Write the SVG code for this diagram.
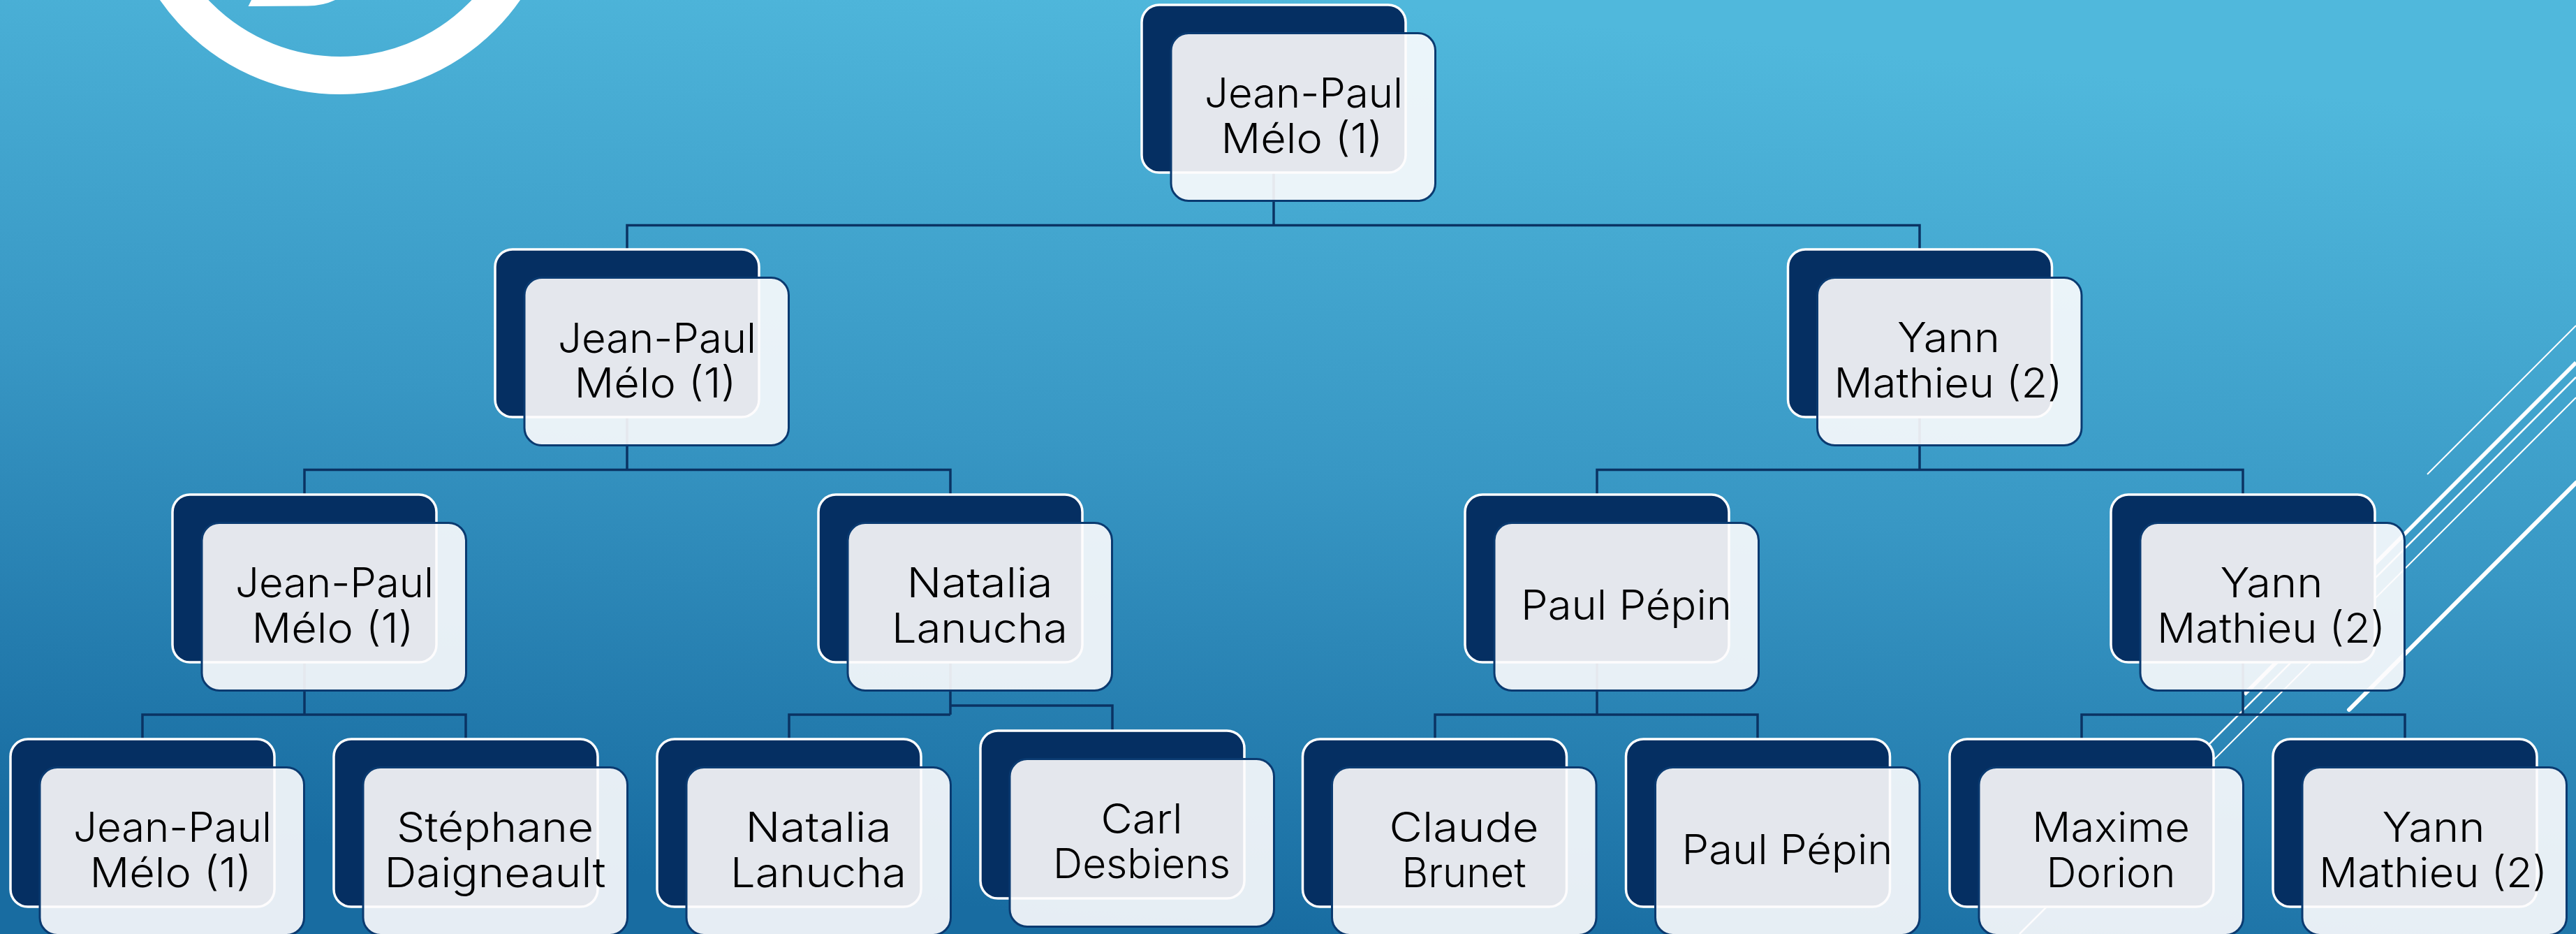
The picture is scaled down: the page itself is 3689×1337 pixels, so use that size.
<svg xmlns="http://www.w3.org/2000/svg" width="3689" height="1337" viewBox="0 0 3689 1337">
<style>
.b{fill:#052f62;stroke:#fff;stroke-width:3.5}
.f{fill:#fdfcfd;fill-opacity:.9;stroke:#0a3a70;stroke-width:3}
.t{font-family:"Inter","Lato","Liberation Sans",sans-serif;font-weight:300;font-size:59px;fill:#000;text-anchor:middle}
.c{fill:none;stroke:#0a3363;stroke-width:3.5}
.d{stroke:#fff;fill:none}
</style>
<defs>
<linearGradient id="bg" gradientUnits="userSpaceOnUse" x1="1910" y1="0" x2="1780" y2="1337">
<stop offset="0" stop-color="#50b8dc"/><stop offset=".5" stop-color="#3897c4"/><stop offset="1" stop-color="#186ca1"/>
</linearGradient>
<rect id="bk" width="378" height="240" rx="25" class="b"/>
<rect id="fr" x="42" y="40.5" width="378.5" height="240" rx="25" class="f"/>
</defs>
<rect width="3689" height="1337" fill="url(#bg)"/>
<g id="decor">
<circle cx="487" cy="-179" r="287" fill="none" stroke="#fff" stroke-width="54"/>
<path d="M355.5 9L360 0H480Q462 8.500 440 8.500Z" fill="#fff"/>
<path class="d" stroke-width="2" d="M3689 466L3476 679"/>
<path class="d" stroke-width="5.500" d="M3689 519L3214 994"/>
<path class="d" stroke-width="2.500" d="M3689 540L2892 1337"/>
<path class="d" stroke-width="2" d="M3689 569L3100 1158"/>
<path class="d" stroke-width="6" stroke-linecap="round" d="M3689 691L3364 1016"/>
</g>
<g id="connectors" class="c">
<path class="c" d="M1824 247V322.500M898 357V322.500H2749V357"/>
<path class="c" d="M898 597V672.500M436 708V672.500H1361V708"/>
<path class="c" d="M2749 597V672.500M2287 708V672.500H3212V708"/>
<path class="c" d="M436 948V1023M204 1058V1023H667V1058"/>
<path class="c" d="M1361 948V1023M1130 1058V1023H1361M1361 1010H1593V1046"/>
<path class="c" d="M2287 948V1023M2055 1058V1023H2517V1058"/>
<path class="c" d="M3212 948V1023M2981 1058V1023H3444V1058"/>
</g>
<g id="n1" transform="translate(1635 7)"><use href="#bk"/><use href="#fr"/><text class="t" x="232" y="147" textLength="284" lengthAdjust="spacingAndGlyphs">Jean-Paul</text><text class="t" x="229.500" y="212" textLength="232" lengthAdjust="spacingAndGlyphs">Mélo (1)</text></g>
<g id="n2" transform="translate(709 357)"><use href="#bk"/><use href="#fr"/><text class="t" x="232" y="148" textLength="284" lengthAdjust="spacingAndGlyphs">Jean-Paul</text><text class="t" x="229.500" y="212" textLength="232" lengthAdjust="spacingAndGlyphs">Mélo (1)</text></g>
<g id="n3" transform="translate(2560.500 357)"><use href="#bk"/><use href="#fr"/><text class="t" x="230" y="147" textLength="147" lengthAdjust="spacingAndGlyphs">Yann</text><text class="t" x="229.500" y="212" textLength="327" lengthAdjust="spacingAndGlyphs">Mathieu (2)</text></g>
<g id="n4" transform="translate(247 708)"><use href="#bk"/><use href="#fr"/><text class="t" x="232" y="147" textLength="284" lengthAdjust="spacingAndGlyphs">Jean-Paul</text><text class="t" x="229.500" y="212" textLength="232" lengthAdjust="spacingAndGlyphs">Mélo (1)</text></g>
<g id="n5" transform="translate(1172 708)"><use href="#bk"/><use href="#fr"/><text class="t" x="231" y="147" textLength="209" lengthAdjust="spacingAndGlyphs">Natalia</text><text class="t" x="231" y="212" textLength="252" lengthAdjust="spacingAndGlyphs">Lanucha</text></g>
<g id="n6" transform="translate(2098 708)"><use href="#bk"/><use href="#fr"/><text class="t" x="231" y="179" textLength="302" lengthAdjust="spacingAndGlyphs">Paul Pépin</text></g>
<g id="n7" transform="translate(3023 708)"><use href="#bk"/><use href="#fr"/><text class="t" x="230" y="147" textLength="147" lengthAdjust="spacingAndGlyphs">Yann</text><text class="t" x="229.500" y="212" textLength="327" lengthAdjust="spacingAndGlyphs">Mathieu (2)</text></g>
<g id="n8" transform="translate(15 1058)"><use href="#bk"/><use href="#fr"/><text class="t" x="232" y="147" textLength="284" lengthAdjust="spacingAndGlyphs">Jean-Paul</text><text class="t" x="229.500" y="212" textLength="232" lengthAdjust="spacingAndGlyphs">Mélo (1)</text></g>
<g id="n9" transform="translate(478 1058)"><use href="#bk"/><use href="#fr"/><text class="t" x="231" y="147" textLength="282" lengthAdjust="spacingAndGlyphs">Stéphane</text><text class="t" x="231" y="212" textLength="317" lengthAdjust="spacingAndGlyphs">Daigneault</text></g>
<g id="n10" transform="translate(941 1058)"><use href="#bk"/><use href="#fr"/><text class="t" x="231" y="147" textLength="209" lengthAdjust="spacingAndGlyphs">Natalia</text><text class="t" x="231" y="212" textLength="252" lengthAdjust="spacingAndGlyphs">Lanucha</text></g>
<g id="n11" transform="translate(1404 1046)"><use href="#bk"/><use href="#fr"/><text class="t" x="231" y="147" textLength="117" lengthAdjust="spacingAndGlyphs">Carl</text><text class="t" x="231" y="211" textLength="254" lengthAdjust="spacingAndGlyphs">Desbiens</text></g>
<g id="n12" transform="translate(1865.500 1058)"><use href="#bk"/><use href="#fr"/><text class="t" x="231" y="147" textLength="214" lengthAdjust="spacingAndGlyphs">Claude</text><text class="t" x="231" y="212" textLength="178" lengthAdjust="spacingAndGlyphs">Brunet</text></g>
<g id="n13" transform="translate(2328.500 1058)"><use href="#bk"/><use href="#fr"/><text class="t" x="231" y="179" textLength="302" lengthAdjust="spacingAndGlyphs">Paul Pépin</text></g>
<g id="n14" transform="translate(2792 1058)"><use href="#bk"/><use href="#fr"/><text class="t" x="231" y="147" textLength="226" lengthAdjust="spacingAndGlyphs">Maxime</text><text class="t" x="231" y="212" textLength="185" lengthAdjust="spacingAndGlyphs">Dorion</text></g>
<g id="n15" transform="translate(3255 1058)"><use href="#bk"/><use href="#fr"/><text class="t" x="230" y="147" textLength="147" lengthAdjust="spacingAndGlyphs">Yann</text><text class="t" x="229.500" y="212" textLength="327" lengthAdjust="spacingAndGlyphs">Mathieu (2)</text></g>
</svg>
